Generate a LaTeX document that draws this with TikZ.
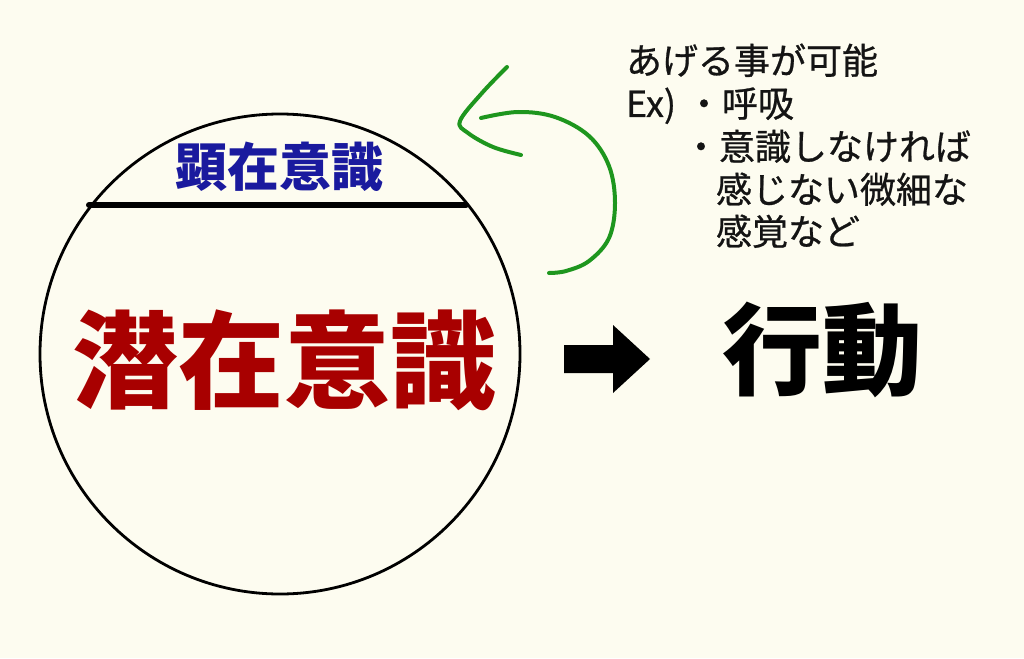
\documentclass[tikz,border=0pt]{standalone}
\usepackage{fontspec}
\newfontfamily\jp{Noto Sans CJK JP}
\newfontfamily\jpmed[FakeBold=0.7]{Noto Sans CJK JP}
\definecolor{bg}{RGB}{253,252,240}
\definecolor{topblue}{RGB}{26,26,158}
\definecolor{subred}{RGB}{168,0,0}
\definecolor{pen}{RGB}{30,150,30}
\definecolor{ink}{RGB}{20,20,20}
\begin{document}
\begin{tikzpicture}[x=1pt,y=-1pt,
  lbl/.style={inner sep=0pt,outer sep=0pt},
  note/.style={lbl,anchor=base west,text=ink,font=\jpmed\fontsize{36}{40}\selectfont},
  greenpen/.style={draw=pen,line width=4pt,line cap=round,line join=round}]
\fill[bg] (0,0) rectangle (1024,658);
\useasboundingbox (0,0) rectangle (1024,658);
% circle
\node[draw=black,line width=2.8pt,circle,minimum size=480pt,inner sep=0pt] (circ) at (280,354) {};
\coordinate (la) at (89,205);
\coordinate (lb) at (466,205);
\draw[line width=6pt,line cap=round] (la) -- (lb);
\node[lbl,text=topblue,font=\jp\bfseries\fontsize{52}{56}\selectfont] (top) at (279,167) {顕在意識};
\node[lbl,text=subred,font=\jp\bfseries\fontsize{106}{110}\selectfont] (sub) at (284,360) {潜在意識};
% block arrow
\coordinate (arr) at (607,359);
\fill[black] (564,345) -- (613,345) -- (613,325) -- (650,359) -- (613,393) -- (613,373) -- (564,373) -- cycle;
\node[lbl,text=black,font=\jp\bfseries\fontsize{100}{104}\selectfont] (act) at (822,350) {行動};
% notes
\node[note] (n1) at (626,74) {あげる事が可能};
\node[note] (n2a) at (626,117) {Ex)};
\node[note] (n2b) at (686,117) {・呼吸};
\node[note] (n3) at (683,160) {・意識しなければ};
\node[note] (n4) at (716,203) {感じない微細な};
\node[note] (n5) at (716,245) {感覚など};
% green hand-drawn arrow
\draw[greenpen] plot[smooth,tension=0.6] coordinates {(507,67) (482,93) (460,121) (468,133) (493,147) (521,155)};
\draw[greenpen] plot[smooth,tension=0.6] coordinates {(481,118) (518,112) (555,117) (589,136) (609,166) (615,203) (609,238) (589,261) (566,271) (549,273)};
\end{tikzpicture}
\end{document}
